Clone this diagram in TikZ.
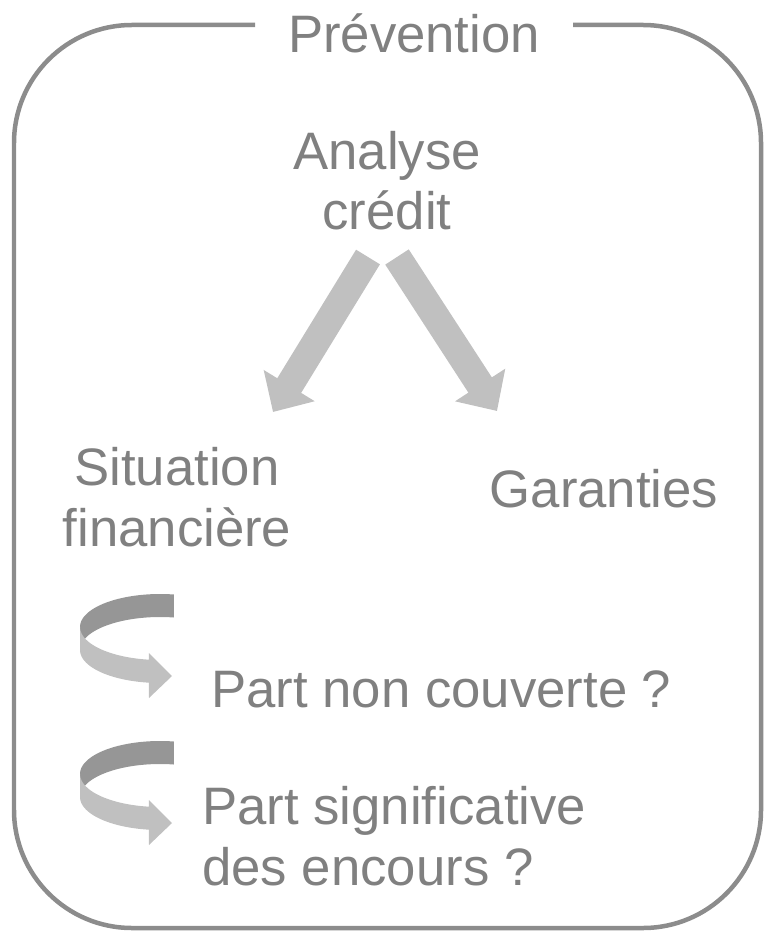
\documentclass[tikz,border=0pt]{standalone}
\usepackage{fontspec}
\setmainfont{Liberation Sans}
\usetikzlibrary{arrows.meta}

\definecolor{txtgray}{HTML}{808080}
\definecolor{framegray}{HTML}{8C8C8C}
\definecolor{arrowgray}{HTML}{C0C0C0}
\definecolor{curldark}{HTML}{969696}

\tikzset{
    curlarrow/.pic={
        \fill[curldark] plot[domain=80:180, samples=30] ({80*cos(\x)},{-33*sin(\x)})
            -- plot[domain=180:80, samples=30] ({80*cos(\x)},{23-33*sin(\x)}) -- cycle;
        \fill[arrowgray] plot[domain=180:262, samples=30] ({80*cos(\x)},{-33*sin(\x)})
            -- (-11,26) -- (12,49) -- (-11,71)
            -- plot[domain=262:180, samples=30] ({80*cos(\x)},{23-33*sin(\x)}) -- cycle;
    }
}

\begin{document}
\begin{tikzpicture}[
    x=0.02cm, y=-0.02cm,
    label/.style={inner sep=0pt, text=txtgray, font=\fontsize{30}{34.5}\selectfont},
    frame/.style={draw=framegray, line width=0.09cm, rounded corners=2.36cm},
    bigarrow/.style={draw=arrowgray, line width=0.56cm, line cap=butt,
        -{Triangle[width=1.16cm, length=0.62cm]}}
]
    \useasboundingbox (0,0) rectangle (764,932);

    % Cadre
    \draw[frame] (255,25) -- (14,25) -- (14,928) -- (761,928) -- (761,25) -- (573,25);
    \node[label, anchor=base] (title) at (414,53) {Prévention};

    % Analyse
    \node[label, anchor=base, align=center] (analyse) at (387,230) {Analyse\\crédit};
    \node[label, anchor=base, align=center] (situation) at (177,546) {Situation\\financière};
    \node[label, anchor=base] (garanties) at (604,507) {Garanties};

    \coordinate (l-start) at (368,257);
    \coordinate (l-end) at (273,412);
    \coordinate (r-start) at (397,257);
    \coordinate (r-end) at (497,411);
    \draw[bigarrow] (l-start) -- (l-end);
    \draw[bigarrow] (r-start) -- (r-end);

    % Questions
    \pic (curl1) at (160,627) {curlarrow};
    \node[label, anchor=base west] (part1) at (211,707) {Part non couverte ?};

    \pic (curl2) at (160,774) {curlarrow};
    \node[label, anchor=base west, align=left] (part2) at (202,885) {Part significative\\des encours ?};
\end{tikzpicture}
\end{document}
